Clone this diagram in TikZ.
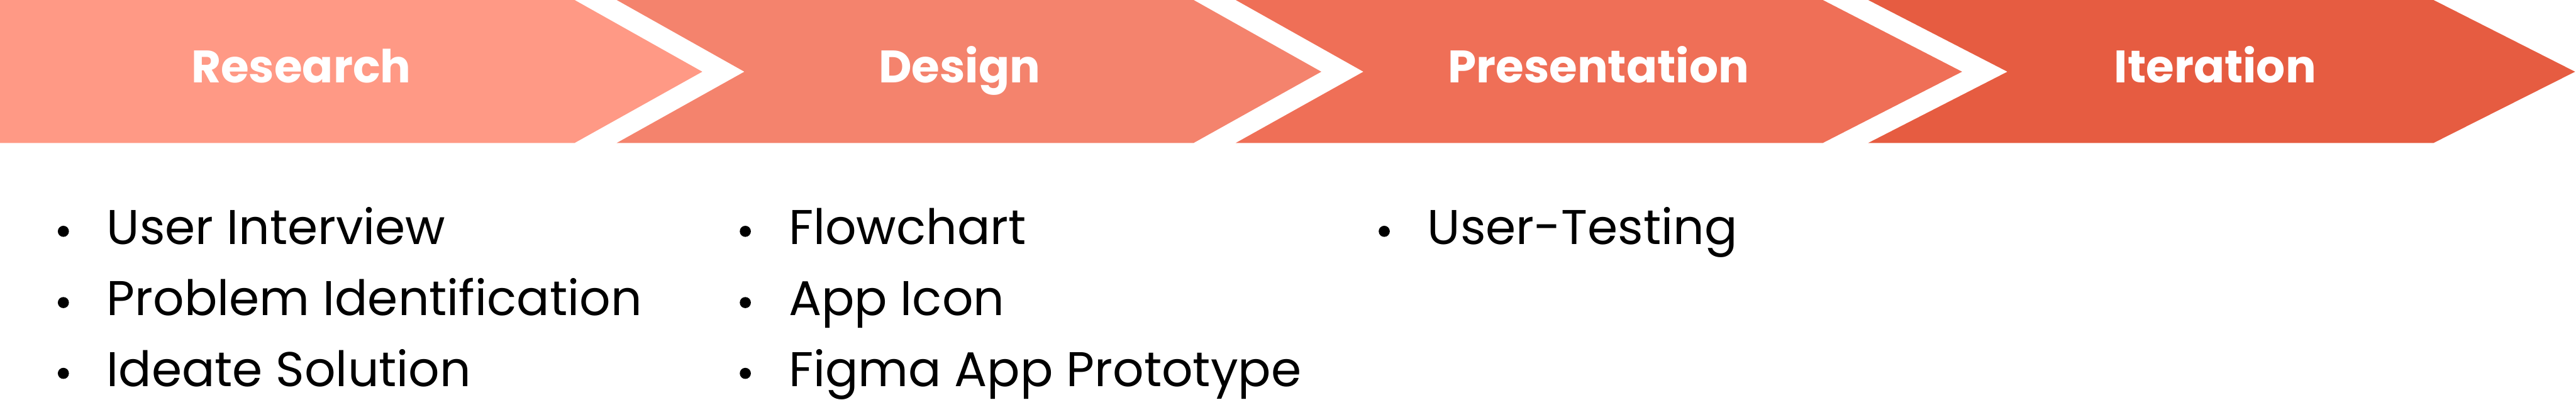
\documentclass[tikz,border=0pt]{standalone}
\usepackage{fontspec}
\setmainfont{Poppins}
\usetikzlibrary{positioning}
\definecolor{researchcol}{HTML}{FF9985}
\definecolor{designcol}{HTML}{F4836D}
\definecolor{presentcol}{HTML}{EF6F57}
\definecolor{iterationcol}{HTML}{E65C41}

\begin{document}
\begin{tikzpicture}[
  phase/.style={fill=#1, draw=none},
  head/.style={anchor=base, inner sep=0pt, text=white, font=\fontsize{28}{33}\selectfont\bfseries},
  item/.style={anchor=base west, inner sep=0pt, text=black, font=\fontsize{30}{36}\selectfont},
  bulletdot/.style={fill=black}
]
  \useasboundingbox (0,0) rectangle (55.68,-8.64);

  % chevrons
  \fill[phase=researchcol] (0,0) -- (12.42,0) -- (15.18,-1.55) -- (12.42,-3.09) -- (0,-3.09) -- cycle;
  \fill[phase=designcol] (13.33,0) -- (25.80,0) -- (28.56,-1.55) -- (25.80,-3.09) -- (13.33,-3.09) -- (16.09,-1.55) -- cycle;
  \fill[phase=presentcol] (26.71,0) -- (39.40,0) -- (42.41,-1.55) -- (39.40,-3.09) -- (26.71,-3.09) -- (29.47,-1.55) -- cycle;
  \fill[phase=iterationcol] (40.38,0) -- (52.60,0) -- (55.66,-1.55) -- (52.60,-3.09) -- (40.38,-3.09) -- (43.39,-1.55) -- cycle;

  \node[head] (research) at (6.51,-1.79) {Research};
  \node[head] (design) at (20.74,-1.79) {Design};
  \node[head] (present) at (34.55,-1.79) {Presentation};
  \node[head] (iteration) at (47.88,-1.79) {Iteration};

  % task lists
  \node[item] (r1) at (2.30,-5.28) {User Interview};
  \node[item] (r2) at (2.30,-6.82) {Problem Identification};
  \node[item] (r3) at (2.30,-8.35) {Ideate Solution};
  \node[item] (d1) at (17.04,-5.28) {Flowchart};
  \node[item] (d2) at (17.04,-6.82) {App Icon};
  \node[item] (d3) at (17.04,-8.35) {Figma App Prototype};
  \node[item] (p1) at (30.85,-5.28) {User-Testing};

  \foreach \n in {r1,r2,r3,d1,d2,d3,p1}
    \fill[bulletdot] ([shift={(-0.93,0.28)}]\n.base west) circle (0.12);
\end{tikzpicture}
\end{document}
